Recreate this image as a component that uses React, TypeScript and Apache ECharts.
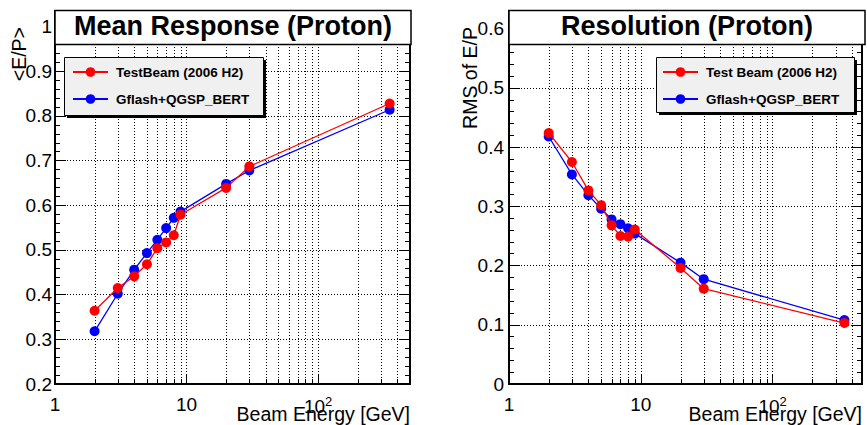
import React, { useEffect, useRef } from "react";
import * as echarts from "echarts";

// Beam energies (GeV) shared by both panels
const energies = [2, 3, 4, 5, 6, 7, 8, 9, 20, 30, 350];

// Mean response <E/P>
const meanTestBeam = [0.364, 0.415, 0.441, 0.468, 0.504, 0.517, 0.533, 0.579, 0.639, 0.687, 0.828];
const meanGflash = [0.318, 0.402, 0.456, 0.493, 0.523, 0.549, 0.572, 0.586, 0.648, 0.678, 0.814];

// Resolution: RMS of E/P
const rmsTestBeam = [0.424, 0.375, 0.327, 0.302, 0.268, 0.25, 0.249, 0.261, 0.196, 0.161, 0.103];
const rmsGflash = [0.418, 0.354, 0.319, 0.296, 0.278, 0.27, 0.263, 0.254, 0.205, 0.177, 0.108];

// Intermediate log-axis positions that get a dotted grid line and a small tick
const minorEnergyTicks = [2, 3, 4, 5, 6, 7, 8, 9, 20, 30, 40, 50, 60, 70, 80, 90, 200, 300, 400];

const RED = "#ff0000";
const BLUE = "#0000ff";
const FONT = "'Liberation Sans', Arial, Helvetica, sans-serif";
const GFLASH = "Gflash+QGSP_BERT";

type Panel = {
  left: number;
  width: number;
  xMax: number;
  yMin: number;
  yMax: number;
  title: string;
  yTitle: string;
  redName: string;
  red: number[];
  blue: number[];
  legendBox: { x: number; y: number; w: number; h: number };
  legendPad: number[];
};

const panels: Panel[] = [
  {
    left: 55,
    width: 355,
    xMax: 500,
    yMin: 0.2,
    yMax: 1.035,
    title: "Mean Response (Proton)",
    yTitle: "<E/P>",
    redName: "TestBeam (2006 H2)",
    red: meanTestBeam,
    blue: meanGflash,
    legendBox: { x: 64, y: 57, w: 199, h: 58 },
    legendPad: [8, 15, 9, 8],
  },
  {
    left: 509,
    width: 353,
    xMax: 476,
    yMin: 0,
    yMax: 0.63,
    title: "Resolution (Proton)",
    yTitle: "RMS of E/P",
    redName: "Test Beam (2006 H2)",
    red: rmsTestBeam,
    blue: rmsGflash,
    legendBox: { x: 656, y: 57, w: 198, h: 55 },
    legendPad: [8, 15, 6, 6],
  },
];

const GRID_TOP = 11;
const GRID_BOTTOM = 384;

const decadeLabel = (v: number) => {
  if (Math.abs(v - 1) < 1e-9) return "1";
  if (Math.abs(v - 10) < 1e-9) return "10";
  if (Math.abs(v - 100) < 1e-9) return "10{sup|2}";
  return "";
};

const tenthLabel = (v: number) => {
  const t = v * 10;
  if (Math.abs(t - Math.round(t)) > 1e-6) return "";
  return String(Math.round(t) / 10);
};

const dotted = { color: "#000", width: 1, type: [1, 2] as number[] };

function buildOption() {
  const grid: any[] = [];
  const xAxis: any[] = [];
  const yAxis: any[] = [];
  const series: any[] = [];
  const legend: any[] = [];
  const graphic: any[] = [];

  panels.forEach((p, i) => {
    grid.push({
      left: p.left,
      top: GRID_TOP,
      width: p.width,
      height: GRID_BOTTOM - GRID_TOP,
      show: true,
      borderColor: "#000",
      borderWidth: 2,
      backgroundColor: "transparent",
    });

    xAxis.push({
      type: "log",
      logBase: 10,
      gridIndex: i,
      min: 1,
      max: p.xMax,
      axisLine: { show: false },
      axisTick: { show: true, inside: true, length: 10, lineStyle: { color: "#000", width: 1 } },
      splitLine: { show: true, lineStyle: dotted },
      axisLabel: {
        formatter: decadeLabel,
        color: "#000",
        fontFamily: FONT,
        fontSize: 19,
        margin: 11,
        showMaxLabel: false,
        rich: {
          sup: { fontSize: 13, fontFamily: FONT, color: "#000", verticalAlign: "top", padding: [0, 0, 10, 0] },
        },
      },
    });

    const yCommon = {
      type: "value",
      gridIndex: i,
      min: p.yMin,
      max: p.yMax,
      interval: 0.1,
      axisLine: { show: false },
      axisTick: { show: true, inside: true, length: 11, lineStyle: { color: "#000", width: 1 } },
      minorTick: { show: true, splitNumber: 5, length: 5, lineStyle: { color: "#000", width: 1 } },
    };
    yAxis.push({
      ...yCommon,
      position: "left",
      splitLine: { show: true, lineStyle: dotted },
      axisLabel: {
        formatter: tenthLabel,
        color: "#000",
        fontFamily: FONT,
        fontSize: 19,
        margin: i === 0 ? 3 : 5,
      },
    });
    yAxis.push({
      ...yCommon,
      position: "right",
      splitLine: { show: false },
      axisLabel: { show: false },
    });

    const yMin = p.yMin;
    const yMax = p.yMax;
    series.push({
      type: "custom",
      xAxisIndex: i,
      yAxisIndex: 2 * i,
      silent: true,
      z: 1,
      data: minorEnergyTicks.map((e) => [e, yMin]),
      renderItem: (_params: any, api: any) => {
        const e = api.value(0);
        const b = api.coord([e, yMin]);
        const t = api.coord([e, yMax]);
        const x = Math.round(b[0]) + 0.5;
        return {
          type: "group",
          children: [
            {
              type: "line",
              shape: { x1: x, y1: b[1], x2: x, y2: t[1] },
              style: { stroke: "#000", lineWidth: 1, lineDash: [1, 2] },
            },
            {
              type: "line",
              shape: { x1: x, y1: b[1], x2: x, y2: b[1] - 5 },
              style: { stroke: "#000", lineWidth: 1 },
            },
          ],
        };
      },
    });

    const lineSeries = (name: string, vals: number[], color: string, z: number) => ({
      name,
      type: "line",
      xAxisIndex: i,
      yAxisIndex: 2 * i,
      data: energies.map((e, k) => [e, vals[k]]),
      symbol: "circle",
      symbolSize: 10,
      showSymbol: true,
      lineStyle: { color, width: 1.3 },
      itemStyle: { color },
      z,
    });
    series.push(lineSeries(GFLASH, p.blue, BLUE, 3));
    series.push(lineSeries(p.redName, p.red, RED, 4));

    const lb = p.legendBox;
    graphic.push({
      type: "rect",
      z: 3,
      silent: true,
      shape: { x: lb.x + 3, y: lb.y + 3, width: lb.w, height: lb.h },
      style: { fill: "#000" },
    });
    graphic.push({
      type: "rect",
      z: 3,
      silent: true,
      shape: { x: lb.x + 0.5, y: lb.y + 0.5, width: lb.w, height: lb.h },
      style: { fill: "#f0f0f0", stroke: "#000", lineWidth: 1 },
    });

    legend.push({
      left: lb.x,
      top: lb.y,
      orient: "vertical",
      data: [p.redName, GFLASH],
      padding: p.legendPad,
      itemGap: 13,
      itemWidth: 35,
      itemHeight: 12,
      selectedMode: false,
      backgroundColor: "transparent",
      borderWidth: 0,
      z: 5,
      textStyle: {
        fontFamily: FONT,
        fontWeight: "bold",
        fontSize: 13.5,
        color: "#000",
        lineHeight: 14,
        padding: [0, 0, 0, 3],
      },
    });

    // title box
    graphic.push({
      type: "rect",
      z: 10,
      silent: true,
      shape: { x: p.left, y: 10.5, width: 356, height: 34 },
      style: { fill: "#fff", stroke: "#000", lineWidth: 1.5 },
    });
    graphic.push({
      type: "text",
      z: 11,
      silent: true,
      x: p.left + 178,
      y: 26,
      style: {
        text: p.title,
        fill: "#000",
        font: `bold 27px ${FONT}`,
        align: "center",
        verticalAlign: "middle",
      },
    });

    // axis titles
    graphic.push({
      type: "text",
      z: 11,
      silent: true,
      x: p.left + p.width,
      y: 414,
      style: {
        text: "Beam Energy [GeV]",
        fill: "#000",
        font: `19.5px ${FONT}`,
        align: "right",
        verticalAlign: "middle",
      },
    });
    graphic.push({
      type: "text",
      z: 11,
      silent: true,
      x: i === 0 ? 19 : 469.5,
      y: 27,
      rotation: Math.PI / 2,
      style: {
        text: p.yTitle,
        fill: "#000",
        font: `19.5px ${FONT}`,
        align: "right",
        verticalAlign: "middle",
      },
    });
  });

  return {
    animation: false,
    backgroundColor: "#fff",
    grid,
    xAxis,
    yAxis,
    series,
    legend,
    graphic,
  };
}

export default function App() {
  const ref = useRef<HTMLDivElement>(null);

  useEffect(() => {
    if (!ref.current) return;
    const chart = echarts.init(ref.current, undefined, { renderer: "svg" });
    chart.setOption(buildOption() as any);
    return () => chart.dispose();
  }, []);

  return (
    <div
      ref={ref}
      style={{ position: "fixed", left: 0, top: 0, width: 867, height: 425 }}
    />
  );
}
